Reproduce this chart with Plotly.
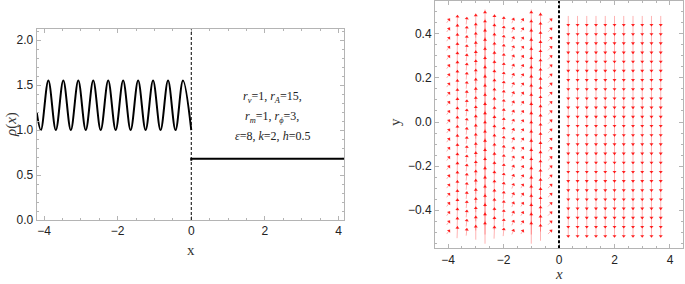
import math
import plotly.graph_objects as go

# ---------------- data: left panel (rho(x)) ----------------
# extrema (start point, then alternating trough/peak)
rho_x = [-4.2, -4.086, -3.883, -3.680, -3.477, -3.273, -3.070, -2.867, -2.664,
         -2.461, -2.257, -2.054, -1.851, -1.648, -1.444, -1.241, -1.038,
         -0.835, -0.631, -0.428, -0.225, 0.0]
rho_y = [1.20, 1.00, 1.55, 1.00, 1.55, 1.00, 1.55, 1.00, 1.55,
         1.00, 1.55, 1.00, 1.55, 1.00, 1.55, 1.00, 1.55,
         1.00, 1.55, 1.00, 1.55, 1.00]
flat_x = [0.0, 0.0, 4.15]
flat_y = [0.66, 0.68, 0.68]
params_lines = ["<i>r</i><sub><i>v</i></sub>=1, <i>r</i><sub><i>A</i></sub>=15,",
                "<i>r</i><sub><i>m</i></sub>=1, <i>r</i><sub><i>ϕ</i></sub>=3,",
                "<i>ε</i>=8, <i>k</i>=2, <i>h</i>=0.5"]
left_xticks = [-4, -2, 0, 2, 4]
left_yticks = [0.0, 0.5, 1.0, 1.5, 2.0]

# ---------------- data: right panel (vector field) ----------------
cols_left = [-4.0, -3.667, -3.333, -3.0, -2.667, -2.333, -2.0, -1.667, -1.333, -1.0, -0.667, -0.333]
u_left = [0.12, 0.02, 0.03, 0.0, 0.0, 0.02, 0.03, 0.08, 0.10, 0.0, 0.0, 0.16]
v_left = [0.16, 0.52, 0.30, 0.65, 1.00, 0.56, 0.34, 0.20, 0.16, 1.00, 0.74, 0.16]
cols_right = [0.333, 0.667, 1.0, 1.333, 1.667, 2.0, 2.333, 2.667, 3.0, 3.333, 3.667]
u_right = [0.0] * len(cols_right)
v_right = [-0.44] * len(cols_right)
rows = [-0.5, -0.4583, -0.4167, -0.375, -0.3333, -0.2917, -0.25, -0.2083, -0.1667,
        -0.125, -0.0833, -0.0417, 0.0, 0.0417, 0.0833, 0.125, 0.1667, 0.2083,
        0.25, 0.2917, 0.3333, 0.375, 0.4167, 0.4583]
right_xticks = [-4, -2, 0, 2, 4]
right_yticks = [-0.4, -0.2, 0.0, 0.2, 0.4]

# ---------------- layout geometry ----------------
W, H = 685, 284
L_dom_x = [36.7 / W, 344.0 / W]
L_dom_y = [(H - 220.0) / H, (H - 29.3) / H]
R_dom_x = [435.0 / W, 683.3 / W]
R_dom_y = [(H - 248.3) / H, (H - 1.0) / H]
L_xr = [-4.2, 4.15]
L_yr = [0.0, 2.12]
R_xr = [-4.47, 4.48]
R_yr = [-0.573, 0.549]

# px per data unit on the right panel
px_x = (R_dom_x[1] - R_dom_x[0]) * W / (R_xr[1] - R_xr[0])
px_y = (R_dom_y[1] - R_dom_y[0]) * H / (R_yr[1] - R_yr[0])
ARROW_PX = 23.0  # pixel length of a unit vector

fig = go.Figure()

# left panel traces
fig.add_trace(go.Scatter(x=rho_x, y=rho_y, mode="lines",
                         line=dict(color="black", width=2, shape="spline", smoothing=1.0),
                         xaxis="x", yaxis="y", hoverinfo="skip"))
fig.add_trace(go.Scatter(x=flat_x, y=flat_y, mode="lines",
                         line=dict(color="black", width=2),
                         xaxis="x", yaxis="y", hoverinfo="skip"))

# vector field
sx, sy, hx, hy, ang = [], [], [], [], []
for cols, us, vs in ((cols_left, u_left, v_left), (cols_right, u_right, v_right)):
    for xc, u, v in zip(cols, us, vs):
        dxp, dyp = u * ARROW_PX, v * ARROW_PX
        dx, dy = dxp / px_x, dyp / px_y
        for yc in rows:
            x0, y0 = xc - dx / 2, yc - dy / 2
            x1, y1 = xc + dx / 2, yc + dy / 2
            sx += [x0, x1, None]
            sy += [y0, y1, None]
            hx.append(x1 - 0.12 * dx)
            hy.append(y1 - 0.12 * dy)
            ang.append(math.degrees(math.atan2(dxp, dyp)))

fig.add_trace(go.Scatter(x=sx, y=sy, mode="lines",
                         line=dict(color="rgba(255,0,0,0.3)", width=1),
                         xaxis="x2", yaxis="y2", hoverinfo="skip"))
fig.add_trace(go.Scatter(x=hx, y=hy, mode="markers",
                         marker=dict(symbol="triangle-up", size=3.5, angle=ang,
                                     color="rgba(255,0,0,0.85)", line=dict(width=0)),
                         xaxis="x2", yaxis="y2", hoverinfo="skip"))

frame = "#b4b4b4"
tickfont = dict(family="Liberation Sans, Arial, sans-serif", size=12, color="#222")


def ax(domain, rng, tickvals, ticktext, minor_dtick, anchor):
    return dict(domain=domain, range=rng, tickvals=tickvals, ticktext=ticktext,
                showgrid=False, zeroline=False, showline=True, linecolor=frame, linewidth=1,
                mirror="ticks", ticks="inside", ticklen=4, tickcolor=frame, tickwidth=1,
                tickfont=tickfont, anchor=anchor, fixedrange=True, automargin=False,
                minor=dict(ticks="inside", ticklen=2, tickcolor=frame, dtick=minor_dtick,
                           tick0=0, showgrid=False))


def fmt_int(v):
    return ("\u2212" if v < 0 else "") + f"{abs(v):g}"


def fmt_1(v):
    return ("\u2212" if v < 0 else "") + f"{abs(v):.1f}"


fig.update_layout(
    width=W, height=H, margin=dict(l=0, r=0, t=0, b=0, pad=0), autosize=False,
    paper_bgcolor="white", plot_bgcolor="white", showlegend=False,
    xaxis=ax(L_dom_x, L_xr, left_xticks, [fmt_int(v) for v in left_xticks], 0.5, "y"),
    yaxis=ax(L_dom_y, L_yr, left_yticks, [fmt_1(v) for v in left_yticks], 0.1, "x"),
    xaxis2=ax(R_dom_x, R_xr, right_xticks, [fmt_int(v) for v in right_xticks], 0.5, "y2"),
    yaxis2=ax(R_dom_y, R_yr, right_yticks, [fmt_1(v) for v in right_yticks], 0.05, "x2"),
)

# dashed vertical lines at x=0
fig.add_shape(type="line", xref="x", yref="y", x0=0, x1=0, y0=L_yr[0], y1=L_yr[1],
              line=dict(color="black", width=1, dash="3px,2px"))
fig.add_shape(type="line", xref="x2", yref="y2", x0=0, x1=0, y0=R_yr[0], y1=R_yr[1],
              line=dict(color="black", width=2, dash="3px,2px"))

serif = "Liberation Serif, Times New Roman, serif"
# parameter text
for i, line in enumerate(params_lines):
    fig.add_annotation(x=2.2, y=[1.37, 1.14, 0.93][i], xref="x", yref="y", text=line,
                       xanchor="center", yanchor="middle",
                       showarrow=False, font=dict(family=serif, size=12, color="#222"))

# axis titles
titles = [("x", 191, 250, 0), ("<i>ρ</i>(<i>x</i>)", 12, 125, -90),
          ("y", 395, 122, -90), ("<i>x</i>", 559, 274, 0)]
for txt, px, py, rot in titles:
    fig.add_annotation(x=px / W, y=(H - py) / H, xref="paper", yref="paper", text=txt,
                       xanchor="center", yanchor="middle", textangle=rot, showarrow=False,
                       font=dict(family=serif, size=15, color="#333"))

fig.write_html("out.html", config={"displayModeBar": False},
               post_script="document.body.style.margin='0';document.body.style.overflow='hidden';")
